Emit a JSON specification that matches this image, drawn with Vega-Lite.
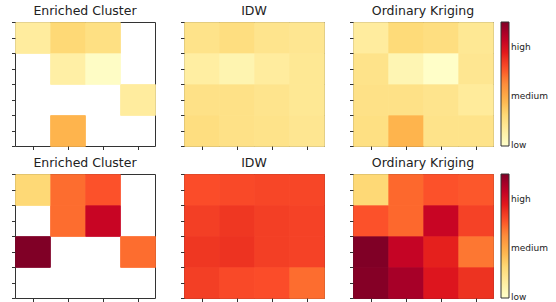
{
  "$schema": "https://vega.github.io/schema/vega-lite/v6.json",
  "padding": {"left": 10, "top": 4, "right": 0, "bottom": 0},
  "background": "white",
  "datasets": {
    "cells": [
      {"group": "upper", "method": "Enriched Cluster", "row": 0, "col": 0, "value": 0.13},
      {"group": "upper", "method": "Enriched Cluster", "row": 0, "col": 1, "value": 0.25},
      {"group": "upper", "method": "Enriched Cluster", "row": 0, "col": 2, "value": 0.21},
      {"group": "upper", "method": "Enriched Cluster", "row": 1, "col": 1, "value": 0.11},
      {"group": "upper", "method": "Enriched Cluster", "row": 1, "col": 2, "value": 0.02},
      {"group": "upper", "method": "Enriched Cluster", "row": 2, "col": 3, "value": 0.13},
      {"group": "upper", "method": "Enriched Cluster", "row": 3, "col": 1, "value": 0.37},

      {"group": "upper", "method": "IDW", "row": 0, "col": 0, "value": 0.19},
      {"group": "upper", "method": "IDW", "row": 0, "col": 1, "value": 0.22},
      {"group": "upper", "method": "IDW", "row": 0, "col": 2, "value": 0.18},
      {"group": "upper", "method": "IDW", "row": 0, "col": 3, "value": 0.17},
      {"group": "upper", "method": "IDW", "row": 1, "col": 0, "value": 0.12},
      {"group": "upper", "method": "IDW", "row": 1, "col": 1, "value": 0.08},
      {"group": "upper", "method": "IDW", "row": 1, "col": 2, "value": 0.13},
      {"group": "upper", "method": "IDW", "row": 1, "col": 3, "value": 0.16},
      {"group": "upper", "method": "IDW", "row": 2, "col": 0, "value": 0.20},
      {"group": "upper", "method": "IDW", "row": 2, "col": 1, "value": 0.20},
      {"group": "upper", "method": "IDW", "row": 2, "col": 2, "value": 0.18},
      {"group": "upper", "method": "IDW", "row": 2, "col": 3, "value": 0.16},
      {"group": "upper", "method": "IDW", "row": 3, "col": 0, "value": 0.22},
      {"group": "upper", "method": "IDW", "row": 3, "col": 1, "value": 0.20},
      {"group": "upper", "method": "IDW", "row": 3, "col": 2, "value": 0.19},
      {"group": "upper", "method": "IDW", "row": 3, "col": 3, "value": 0.17},

      {"group": "upper", "method": "Ordinary Kriging", "row": 0, "col": 0, "value": 0.13},
      {"group": "upper", "method": "Ordinary Kriging", "row": 0, "col": 1, "value": 0.24},
      {"group": "upper", "method": "Ordinary Kriging", "row": 0, "col": 2, "value": 0.22},
      {"group": "upper", "method": "Ordinary Kriging", "row": 0, "col": 3, "value": 0.16},
      {"group": "upper", "method": "Ordinary Kriging", "row": 1, "col": 0, "value": 0.19},
      {"group": "upper", "method": "Ordinary Kriging", "row": 1, "col": 1, "value": 0.07},
      {"group": "upper", "method": "Ordinary Kriging", "row": 1, "col": 2, "value": 0.01},
      {"group": "upper", "method": "Ordinary Kriging", "row": 1, "col": 3, "value": 0.17},
      {"group": "upper", "method": "Ordinary Kriging", "row": 2, "col": 0, "value": 0.20},
      {"group": "upper", "method": "Ordinary Kriging", "row": 2, "col": 1, "value": 0.20},
      {"group": "upper", "method": "Ordinary Kriging", "row": 2, "col": 2, "value": 0.18},
      {"group": "upper", "method": "Ordinary Kriging", "row": 2, "col": 3, "value": 0.14},
      {"group": "upper", "method": "Ordinary Kriging", "row": 3, "col": 0, "value": 0.21},
      {"group": "upper", "method": "Ordinary Kriging", "row": 3, "col": 1, "value": 0.37},
      {"group": "upper", "method": "Ordinary Kriging", "row": 3, "col": 2, "value": 0.19},
      {"group": "upper", "method": "Ordinary Kriging", "row": 3, "col": 3, "value": 0.19},

      {"group": "lower", "method": "Enriched Cluster", "row": 0, "col": 0, "value": 0.25},
      {"group": "lower", "method": "Enriched Cluster", "row": 0, "col": 1, "value": 0.57},
      {"group": "lower", "method": "Enriched Cluster", "row": 0, "col": 2, "value": 0.62},
      {"group": "lower", "method": "Enriched Cluster", "row": 1, "col": 1, "value": 0.57},
      {"group": "lower", "method": "Enriched Cluster", "row": 1, "col": 2, "value": 0.84},
      {"group": "lower", "method": "Enriched Cluster", "row": 2, "col": 0, "value": 1.0},
      {"group": "lower", "method": "Enriched Cluster", "row": 2, "col": 3, "value": 0.57},

      {"group": "lower", "method": "IDW", "row": 0, "col": 0, "value": 0.63},
      {"group": "lower", "method": "IDW", "row": 0, "col": 1, "value": 0.64},
      {"group": "lower", "method": "IDW", "row": 0, "col": 2, "value": 0.65},
      {"group": "lower", "method": "IDW", "row": 0, "col": 3, "value": 0.65},
      {"group": "lower", "method": "IDW", "row": 1, "col": 0, "value": 0.67},
      {"group": "lower", "method": "IDW", "row": 1, "col": 1, "value": 0.69},
      {"group": "lower", "method": "IDW", "row": 1, "col": 2, "value": 0.67},
      {"group": "lower", "method": "IDW", "row": 1, "col": 3, "value": 0.66},
      {"group": "lower", "method": "IDW", "row": 2, "col": 0, "value": 0.69},
      {"group": "lower", "method": "IDW", "row": 2, "col": 1, "value": 0.70},
      {"group": "lower", "method": "IDW", "row": 2, "col": 2, "value": 0.67},
      {"group": "lower", "method": "IDW", "row": 2, "col": 3, "value": 0.66},
      {"group": "lower", "method": "IDW", "row": 3, "col": 0, "value": 0.67},
      {"group": "lower", "method": "IDW", "row": 3, "col": 1, "value": 0.64},
      {"group": "lower", "method": "IDW", "row": 3, "col": 2, "value": 0.63},
      {"group": "lower", "method": "IDW", "row": 3, "col": 3, "value": 0.57},

      {"group": "lower", "method": "Ordinary Kriging", "row": 0, "col": 0, "value": 0.25},
      {"group": "lower", "method": "Ordinary Kriging", "row": 0, "col": 1, "value": 0.58},
      {"group": "lower", "method": "Ordinary Kriging", "row": 0, "col": 2, "value": 0.62},
      {"group": "lower", "method": "Ordinary Kriging", "row": 0, "col": 3, "value": 0.61},
      {"group": "lower", "method": "Ordinary Kriging", "row": 1, "col": 0, "value": 0.62},
      {"group": "lower", "method": "Ordinary Kriging", "row": 1, "col": 1, "value": 0.58},
      {"group": "lower", "method": "Ordinary Kriging", "row": 1, "col": 2, "value": 0.84},
      {"group": "lower", "method": "Ordinary Kriging", "row": 1, "col": 3, "value": 0.66},
      {"group": "lower", "method": "Ordinary Kriging", "row": 2, "col": 0, "value": 1.0},
      {"group": "lower", "method": "Ordinary Kriging", "row": 2, "col": 1, "value": 0.85},
      {"group": "lower", "method": "Ordinary Kriging", "row": 2, "col": 2, "value": 0.74},
      {"group": "lower", "method": "Ordinary Kriging", "row": 2, "col": 3, "value": 0.55},
      {"group": "lower", "method": "Ordinary Kriging", "row": 3, "col": 0, "value": 0.99},
      {"group": "lower", "method": "Ordinary Kriging", "row": 3, "col": 1, "value": 0.92},
      {"group": "lower", "method": "Ordinary Kriging", "row": 3, "col": 2, "value": 0.77},
      {"group": "lower", "method": "Ordinary Kriging", "row": 3, "col": 3, "value": 0.70}
    ]
  },
  "vconcat": [
    {
      "spacing": 23,
      "hconcat": [
        {
          "width": 140, "height": 124, "title": "Enriched Cluster",
          "data": {"name": "cells"},
          "transform": [{"filter": "datum.group === 'upper' && datum.method === 'Enriched Cluster'"}],
          "encoding": {
            "x": {"field": "col", "type": "quantitative", "bin": {"step": 1, "extent": [0, 4]}, "scale": {"domain": [0, 4], "nice": false, "zero": false}, "axis": {"values": [0.5, 1.5, 2.5, 3.5]}},
            "y": {"field": "row", "type": "quantitative", "bin": {"step": 1, "extent": [0, 4]}, "scale": {"domain": [0, 4], "nice": false, "zero": false, "reverse": true}, "axis": {"values": [0, 0.5, 1, 1.5, 2, 2.5, 3, 3.5, 4]}},
            "color": {"field": "value", "type": "quantitative", "scale": {"domain": [0, 0.125, 0.25, 0.375, 0.5, 0.625, 0.75, 0.875, 1], "range": ["#ffffcc", "#ffeda0", "#fed976", "#feb24c", "#fd8d3c", "#fc4e2a", "#e31a1c", "#bd0026", "#800026"]}, "legend": {"values": [0.012, 0.4, 0.8], "labelExpr": "datum.value < 0.1 ? 'low' : datum.value < 0.5 ? 'medium' : 'high'"}}
          },
          "layer": [
            {"mark": {"type": "rect", "binSpacing": 0}},
            {"mark": {"type": "rect", "binSpacing": 0}},
            {"mark": {"type": "rect", "binSpacing": 0}}
          ]
        },
        {
          "width": 140, "height": 124, "title": "IDW",
          "data": {"name": "cells"},
          "transform": [{"filter": "datum.group === 'upper' && datum.method === 'IDW'"}],
          "encoding": {
            "x": {"field": "col", "type": "quantitative", "bin": {"step": 1, "extent": [0, 4]}, "scale": {"domain": [0, 4], "nice": false, "zero": false}, "axis": {"values": [0.5, 1.5, 2.5, 3.5]}},
            "y": {"field": "row", "type": "quantitative", "bin": {"step": 1, "extent": [0, 4]}, "scale": {"domain": [0, 4], "nice": false, "zero": false, "reverse": true}, "axis": {"values": [0, 0.5, 1, 1.5, 2, 2.5, 3, 3.5, 4]}},
            "color": {"field": "value", "type": "quantitative", "scale": {"domain": [0, 0.125, 0.25, 0.375, 0.5, 0.625, 0.75, 0.875, 1], "range": ["#ffffcc", "#ffeda0", "#fed976", "#feb24c", "#fd8d3c", "#fc4e2a", "#e31a1c", "#bd0026", "#800026"]}, "legend": {"values": [0.012, 0.4, 0.8], "labelExpr": "datum.value < 0.1 ? 'low' : datum.value < 0.5 ? 'medium' : 'high'"}}
          },
          "layer": [
            {"mark": {"type": "rect", "binSpacing": 0}},
            {"mark": {"type": "rect", "binSpacing": 0}},
            {"mark": {"type": "rect", "binSpacing": 0}}
          ]
        },
        {
          "width": 140, "height": 124, "title": "Ordinary Kriging",
          "data": {"name": "cells"},
          "transform": [{"filter": "datum.group === 'upper' && datum.method === 'Ordinary Kriging'"}],
          "encoding": {
            "x": {"field": "col", "type": "quantitative", "bin": {"step": 1, "extent": [0, 4]}, "scale": {"domain": [0, 4], "nice": false, "zero": false}, "axis": {"values": [0.5, 1.5, 2.5, 3.5]}},
            "y": {"field": "row", "type": "quantitative", "bin": {"step": 1, "extent": [0, 4]}, "scale": {"domain": [0, 4], "nice": false, "zero": false, "reverse": true}, "axis": {"values": [0, 0.5, 1, 1.5, 2, 2.5, 3, 3.5, 4]}},
            "color": {"field": "value", "type": "quantitative", "scale": {"domain": [0, 0.125, 0.25, 0.375, 0.5, 0.625, 0.75, 0.875, 1], "range": ["#ffffcc", "#ffeda0", "#fed976", "#feb24c", "#fd8d3c", "#fc4e2a", "#e31a1c", "#bd0026", "#800026"]}, "legend": {"values": [0.012, 0.4, 0.8], "labelExpr": "datum.value < 0.1 ? 'low' : datum.value < 0.5 ? 'medium' : 'high'"}}
          },
          "layer": [
            {"mark": {"type": "rect", "binSpacing": 0}},
            {"mark": {"type": "rect", "binSpacing": 0}},
            {"mark": {"type": "rect", "binSpacing": 0}}
          ]
        }
      ]
    },
    {
      "spacing": 23,
      "hconcat": [
        {
          "width": 140, "height": 124, "title": "Enriched Cluster",
          "data": {"name": "cells"},
          "transform": [{"filter": "datum.group === 'lower' && datum.method === 'Enriched Cluster'"}],
          "encoding": {
            "x": {"field": "col", "type": "quantitative", "bin": {"step": 1, "extent": [0, 4]}, "scale": {"domain": [0, 4], "nice": false, "zero": false}, "axis": {"values": [0.5, 1.5, 2.5, 3.5]}},
            "y": {"field": "row", "type": "quantitative", "bin": {"step": 1, "extent": [0, 4]}, "scale": {"domain": [0, 4], "nice": false, "zero": false, "reverse": true}, "axis": {"values": [0, 0.5, 1, 1.5, 2, 2.5, 3, 3.5, 4]}},
            "color": {"field": "value", "type": "quantitative", "scale": {"domain": [0, 0.125, 0.25, 0.375, 0.5, 0.625, 0.75, 0.875, 1], "range": ["#ffffcc", "#ffeda0", "#fed976", "#feb24c", "#fd8d3c", "#fc4e2a", "#e31a1c", "#bd0026", "#800026"]}, "legend": {"values": [0.012, 0.4, 0.8], "labelExpr": "datum.value < 0.1 ? 'low' : datum.value < 0.5 ? 'medium' : 'high'"}}
          },
          "layer": [
            {"mark": {"type": "rect", "binSpacing": 0}},
            {"mark": {"type": "rect", "binSpacing": 0}},
            {"mark": {"type": "rect", "binSpacing": 0}}
          ]
        },
        {
          "width": 140, "height": 124, "title": "IDW",
          "data": {"name": "cells"},
          "transform": [{"filter": "datum.group === 'lower' && datum.method === 'IDW'"}],
          "encoding": {
            "x": {"field": "col", "type": "quantitative", "bin": {"step": 1, "extent": [0, 4]}, "scale": {"domain": [0, 4], "nice": false, "zero": false}, "axis": {"values": [0.5, 1.5, 2.5, 3.5]}},
            "y": {"field": "row", "type": "quantitative", "bin": {"step": 1, "extent": [0, 4]}, "scale": {"domain": [0, 4], "nice": false, "zero": false, "reverse": true}, "axis": {"values": [0, 0.5, 1, 1.5, 2, 2.5, 3, 3.5, 4]}},
            "color": {"field": "value", "type": "quantitative", "scale": {"domain": [0, 0.125, 0.25, 0.375, 0.5, 0.625, 0.75, 0.875, 1], "range": ["#ffffcc", "#ffeda0", "#fed976", "#feb24c", "#fd8d3c", "#fc4e2a", "#e31a1c", "#bd0026", "#800026"]}, "legend": {"values": [0.012, 0.4, 0.8], "labelExpr": "datum.value < 0.1 ? 'low' : datum.value < 0.5 ? 'medium' : 'high'"}}
          },
          "layer": [
            {"mark": {"type": "rect", "binSpacing": 0}},
            {"mark": {"type": "rect", "binSpacing": 0}},
            {"mark": {"type": "rect", "binSpacing": 0}}
          ]
        },
        {
          "width": 140, "height": 124, "title": "Ordinary Kriging",
          "data": {"name": "cells"},
          "transform": [{"filter": "datum.group === 'lower' && datum.method === 'Ordinary Kriging'"}],
          "encoding": {
            "x": {"field": "col", "type": "quantitative", "bin": {"step": 1, "extent": [0, 4]}, "scale": {"domain": [0, 4], "nice": false, "zero": false}, "axis": {"values": [0.5, 1.5, 2.5, 3.5]}},
            "y": {"field": "row", "type": "quantitative", "bin": {"step": 1, "extent": [0, 4]}, "scale": {"domain": [0, 4], "nice": false, "zero": false, "reverse": true}, "axis": {"values": [0, 0.5, 1, 1.5, 2, 2.5, 3, 3.5, 4]}},
            "color": {"field": "value", "type": "quantitative", "scale": {"domain": [0, 0.125, 0.25, 0.375, 0.5, 0.625, 0.75, 0.875, 1], "range": ["#ffffcc", "#ffeda0", "#fed976", "#feb24c", "#fd8d3c", "#fc4e2a", "#e31a1c", "#bd0026", "#800026"]}, "legend": {"values": [0.012, 0.4, 0.8], "labelExpr": "datum.value < 0.1 ? 'low' : datum.value < 0.5 ? 'medium' : 'high'"}}
          },
          "layer": [
            {"mark": {"type": "rect", "binSpacing": 0}},
            {"mark": {"type": "rect", "binSpacing": 0}},
            {"mark": {"type": "rect", "binSpacing": 0}}
          ]
        }
      ]
    }
  ],
  "spacing": 5,
  "resolve": {"scale": {"color": "independent"}},
  "config": {
    "view": {"stroke": "#333", "strokeWidth": 1},
    "axis": {"labels": false, "title": null, "domain": false, "grid": false, "ticks": true, "tickSize": 3.5, "tickColor": "#333", "tickWidth": 1},
    "title": {"font": "DejaVu Sans", "fontSize": 12.5, "fontWeight": "normal", "color": "#222", "offset": 4, "anchor": "middle"},
    "legend": {"title": null, "gradientLength": 124, "gradientThickness": 8, "gradientStrokeColor": "#333", "gradientStrokeWidth": 1, "labelFont": "DejaVu Sans", "labelFontSize": 9, "labelColor": "#222", "labelOffset": 5, "labelBaseline": "middle", "offset": 7}
  }
}
